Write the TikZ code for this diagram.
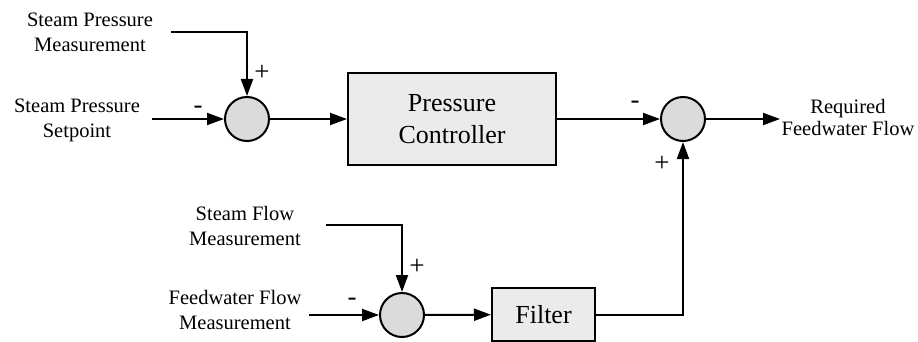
\documentclass[tikz,border=0pt]{standalone}
\usepackage{fontspec}
\setmainfont{Liberation Serif}
\usepackage{xcolor}
\usetikzlibrary{arrows.meta, positioning, calc}

\begin{document}
\begin{tikzpicture}[x=1pt,y=1pt,
 every node/.style={align=center},
 lbl/.style={font=\rmfamily\fontsize{20.5}{25}\selectfont,inner sep=0pt},
 sgn/.style={font=\rmfamily\fontsize{27}{27}\selectfont,inner sep=0pt},
 sumc/.style={circle,draw,line width=2pt,fill=black!14,minimum size=44pt,inner sep=0pt},
 blk/.style={rectangle,draw,line width=2pt,fill=black!8,font=\rmfamily\fontsize{26}{32}\selectfont,inner sep=0pt},
 arr/.style={-{Triangle[length=17pt,width=12pt]},line width=2pt}]
\useasboundingbox (0,0) rectangle (918,-342);
\node[sumc] (s1) at (247,-119) {};
\node[blk,minimum width=208pt,minimum height=92pt] (pc) at (452,-119) {Pressure\\Controller};
\node[sumc] (s2) at (683,-119) {};
\node[sumc] (s3) at (402,-315) {};
\node[blk,minimum width=103pt,minimum height=53pt] (f) at (543.5,-314.5) {Filter};
\node[lbl] (spm) at (90,-32) {Steam Pressure\\Measurement};
\node[lbl] (sps) at (77,-120) {Steam Pressure\\Setpoint};
\node[lbl,font=\rmfamily\fontsize{20.5}{22}\selectfont] (rff) at (848,-117) {Required\\Feedwater Flow};
\node[lbl] (sfm) at (245,-226) {Steam Flow\\Measurement};
\node[lbl] (fwm) at (235,-310) {Feedwater Flow\\Measurement};
\coordinate (spmin) at (171,-32);
\coordinate (spsin) at (152,-119);
\coordinate (sfmin) at (326,-225);
\coordinate (fwmin) at (309,-315);
\coordinate (rffout) at (780,-119);
\node[sgn] (m1) at (198,-110) {-};
\node[sgn] (p1) at (262,-73) {+};
\node[sgn] (m2) at (635,-105) {-};
\node[sgn] (p2) at (662,-164) {+};
\node[sgn] (p3) at (417,-267) {+};
\node[sgn] (m3) at (352,-302) {-};
\draw[arr] (spmin) -| (s1);
\draw[arr] (spsin) -- (s1);
\draw[arr] (s1) -- (pc);
\draw[arr] (pc) -- (s2);
\draw[arr] (s2) -- (rffout);
\draw[arr] (sfmin) -| (s3);
\draw[arr] (fwmin) -- (s3);
\draw[arr] (s3) -- (f);
\draw[arr] (f) -| (s2);
\end{tikzpicture}
\end{document}
